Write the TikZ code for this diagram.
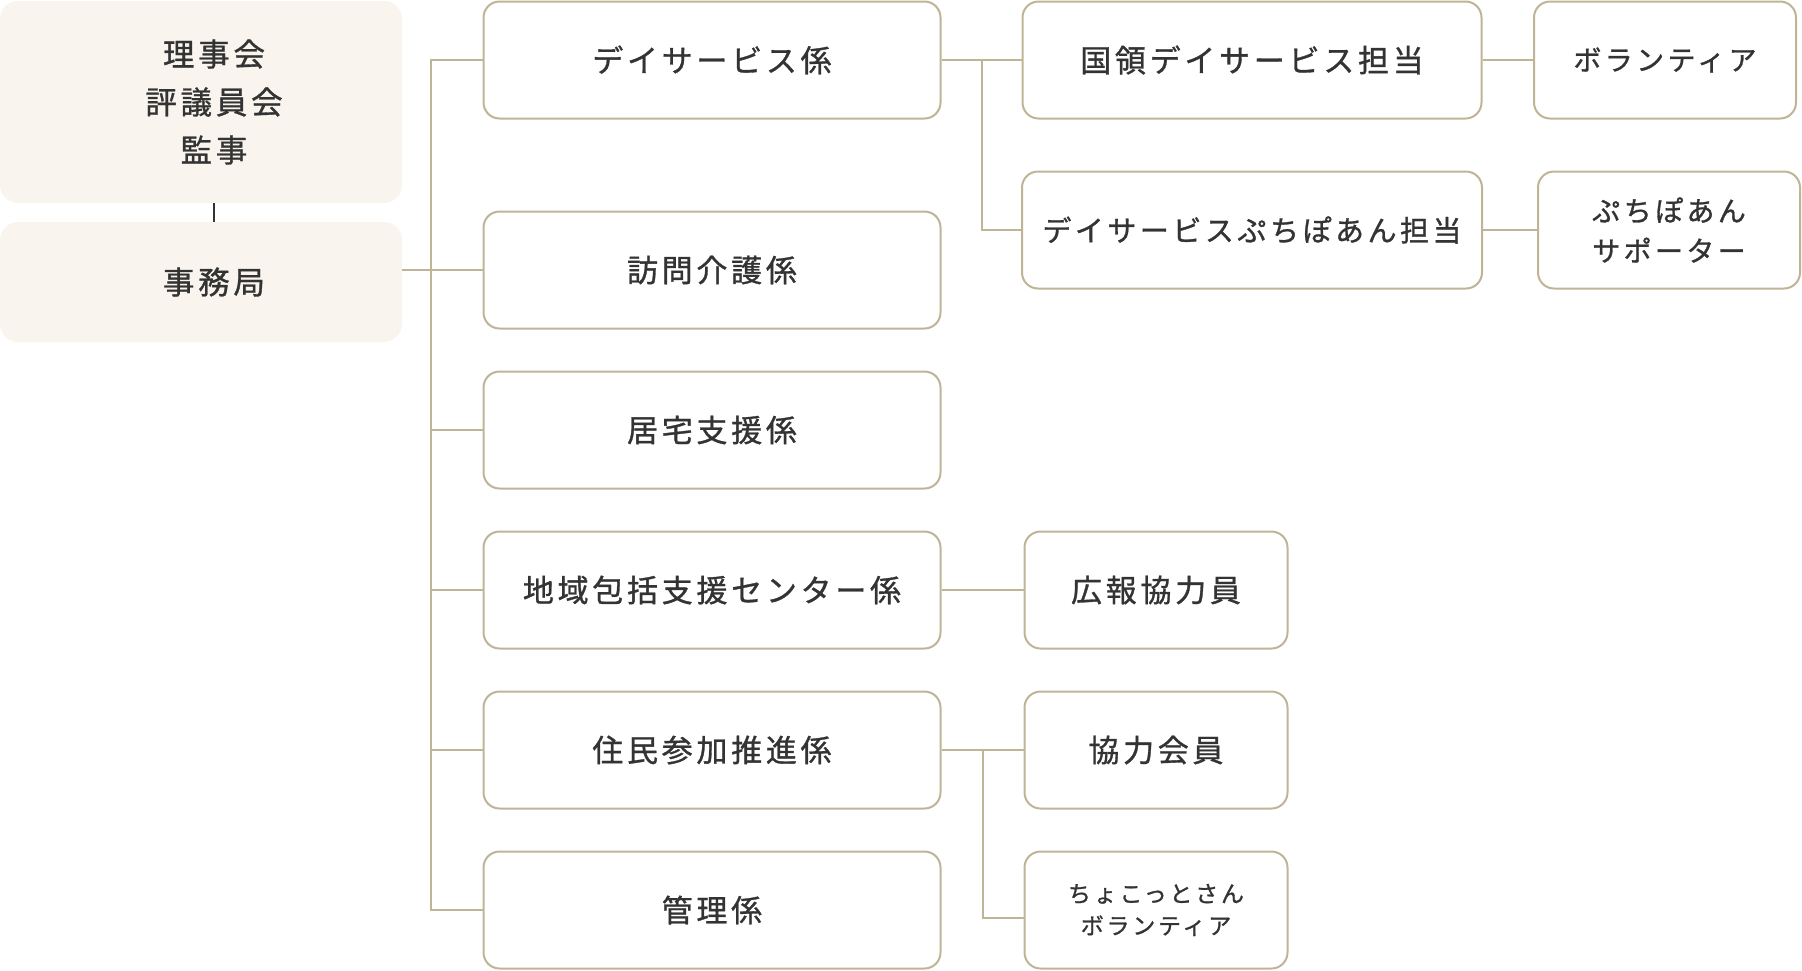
\documentclass[tikz,border=0pt]{standalone}
\usepackage{fontspec}
\newfontfamily\jp[LetterSpace=12,FakeBold=1]{Noto Sans CJK JP}
\usetikzlibrary{positioning,calc}

\definecolor{beigeline}{HTML}{C0B497}
\definecolor{boardfill}{HTML}{F9F5EE}
\definecolor{ink}{HTML}{333333}

\begin{document}
\begin{tikzpicture}[%
    x=1pt, y=-1pt,
    node distance=160pt,
    on grid,
    unit/.style={draw=beigeline, line width=2pt, rounded corners=16pt,
      fill=white, text=ink, align=center, inner sep=0pt,
      minimum width=457pt, minimum height=117pt,
      font=\jp\fontsize{31}{36}\selectfont},
    subunit/.style={unit, minimum width=262pt},
    board/.style={fill=boardfill, rounded corners=18pt, text=ink,
      align=center, inner sep=0pt, minimum width=402pt,
      font=\jp\fontsize{31.5}{48}\selectfont},
    link/.style={draw=beigeline, line width=2pt}
  ]
    \useasboundingbox (0,0) rectangle (1802,970);

    % left column
    \node[board, minimum height=202pt] (board) at (201,102)
      {\kern26pt 理事会\\\kern26pt 評議員会\\\kern26pt 監事};
    \node[board, minimum height=120pt] (jimu) at (201,282) {\kern26pt 事務局};

    % sections
    \node[unit] (day) at (712,60) {デイサービス係};
    \node[unit] (houmon) [below=210pt of day] {訪問介護係};
    \node[unit] (kyotaku) [below of=houmon] {居宅支援係};
    \node[unit] (chiiki) [below of=kyotaku] {地域包括支援センター係};
    \node[unit] (jumin) [below of=chiiki] {住民参加推進係};
    \node[unit] (kanri) [below of=jumin] {管理係};

    % day service units
    \node[unit, minimum width=459pt] (kokuryo) [right=540pt of day] {国領デイサービス担当};
    \node[unit, minimum width=460pt, font=\jp\fontsize{29}{34}\selectfont]
      (puchi) [below=170pt of kokuryo] {デイサービスぷちぽあん担当};
    \node[subunit, font=\jp\fontsize{28}{40}\selectfont]
      (volunteer) [right=413pt of kokuryo] {ボランティア};
    \node[subunit, font=\jp\fontsize{28}{40}\selectfont]
      (supporter) [right=417pt of puchi] {ぷちぽあん\\サポーター};

    % members
    \node[subunit, minimum width=263pt] (kouhou) [right=444pt of chiiki] {広報協力員};
    \node[subunit, minimum width=263pt] (kyoryoku) [right=444pt of jumin] {協力会員};
    \node[subunit, minimum width=263pt, font=\jp\fontsize{23}{32}\selectfont]
      (chokotto) [right=444pt of kanri] {ちょこっとさん\\ボランティア};

    % connectors
    \draw[ink, line width=2pt] ([xshift=13pt]board.south) -- ([xshift=13pt]jimu.north);
    \coordinate[left=52pt of day.west] (trunk);
    \draw[link] (day.west) -- (trunk) |- (kanri.west);
    \foreach \n in {houmon,kyotaku,chiiki,jumin}
      \draw[link] (\n.west) -- (\n.west -| trunk);
    \draw[link] (jimu.east |- houmon.west) -- (houmon.west -| trunk);

    \draw[link] (day.east) -- (kokuryo.west);
    \draw[link] ($(day.east)!.5!(kokuryo.west)$) |- (puchi.west);
    \draw[link] (kokuryo.east) -- (volunteer.west);
    \draw[link] (puchi.east) -- (supporter.west);

    \draw[link] (chiiki.east) -- (kouhou.west);
    \draw[link] (jumin.east) -- (kyoryoku.west);
    \draw[link] ($(jumin.east)!.5!(kyoryoku.west)$) |- ([yshift=-8pt]chokotto.west);
  \end{tikzpicture}
\end{document}
